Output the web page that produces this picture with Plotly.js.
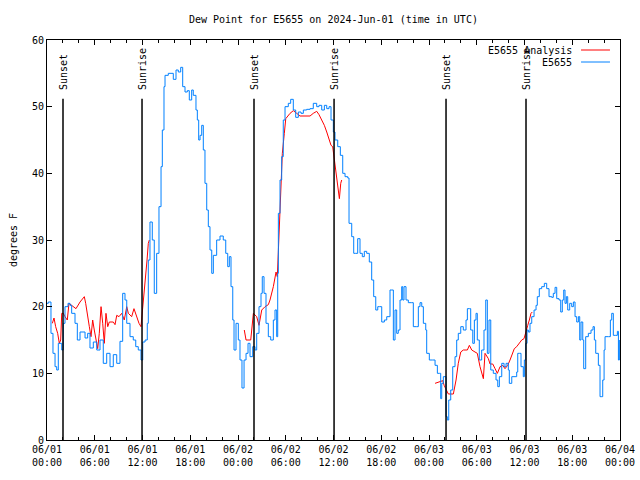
<!DOCTYPE html>
<html>
<head>
<meta charset="utf-8">
<script src="https://cdn.plot.ly/plotly-3.0.1.min.js"></script>
<style>html,body{margin:0;padding:0;background:#fff;}#chart{width:640px;height:480px;}</style>
</head>
<body>
<div id="chart"></div>
<script>
// Hours since 2024-06-01 00:00 UTC
const stationHours = [0.00,0.16,0.50,0.75,1.01,1.22,1.42,1.85,2.05,2.26,2.64,2.89,3.10,3.52,3.81,4.15,4.52,4.78,5.11,5.40,5.82,6.25,6.66,7.07,7.50,7.92,8.33,8.76,9.17,9.51,9.80,10.02,10.43,10.84,11.15,11.47,11.81,12.03,12.32,12.60,12.73,12.94,13.23,13.48,13.78,14.07,14.33,14.49,14.70,14.83,15.24,15.87,16.21,16.50,16.80,17.05,17.34,17.63,17.88,18.18,18.38,18.72,18.89,19.06,19.23,19.44,19.64,19.85,20.07,20.27,20.48,20.70,20.90,21.32,21.74,22.15,22.46,22.71,22.91,23.12,23.34,23.50,23.75,24.04,24.25,24.50,24.76,25.01,25.26,25.51,25.85,26.14,26.35,26.64,26.89,27.05,27.27,27.52,27.81,28.11,28.44,28.65,28.86,28.99,29.07,29.28,29.49,29.69,29.91,30.32,30.62,30.95,31.25,31.58,31.92,32.21,32.63,33.05,33.46,33.89,34.18,34.52,34.85,35.15,35.44,35.69,35.98,36.19,36.53,36.86,37.16,37.45,37.79,37.95,38.29,38.54,38.79,39.04,39.33,39.62,39.87,40.17,40.50,40.80,41.05,41.31,41.56,41.81,42.06,42.39,42.69,42.98,43.10,43.32,43.52,43.73,43.94,44.14,44.36,44.57,44.70,44.86,45.11,45.40,45.83,46.03,46.46,46.66,46.87,47.09,47.29,47.59,47.71,48.04,48.47,48.76,49.05,49.30,49.47,49.60,49.80,50.01,50.14,50.30,50.48,50.73,50.98,51.27,51.48,51.68,51.99,52.31,52.65,52.82,53.07,53.24,53.50,53.70,53.91,54.07,54.32,54.62,54.91,55.13,55.33,55.54,55.76,56.08,56.42,56.64,56.84,57.14,57.43,57.68,57.97,58.09,58.40,58.81,59.02,59.15,59.35,59.56,59.85,59.98,60.15,60.32,60.48,60.69,60.91,61.20,61.45,61.61,61.86,62.16,62.49,62.79,63.08,63.42,63.62,63.84,64.05,64.34,64.55,64.75,64.93,65.09,65.26,65.43,65.68,65.93,66.14,66.35,66.56,66.77,66.94,67.10,67.32,67.44,67.69,68.02,68.36,68.61,68.78,68.95,69.28,69.49,69.71,69.83,70.00,70.12,70.54,70.79,70.96,71.16,71.47,71.67,71.80,71.92];
const stationDewPoint = [20.5,20.7,16,13,11,10.5,14.5,13.5,17.5,20,20.5,20.2,19,17.5,15,16.2,16.2,15.3,16,13.8,14.7,13.5,15,11.5,13,11,12.8,11.5,14.8,22,21,17.5,15.5,15,14,13.5,12,14.7,15,17.5,27,32.7,30,22,28,35,41,46.5,53,54.7,55,54.1,55.5,55.2,55.9,53,52.2,52.4,51,52.5,51.7,49.5,48,45,45.7,47.2,43.5,38.5,34.5,32,28.5,25,27.7,30,30.6,30,28,26,27.5,23,18,13.5,17.5,15,12,7.8,12,13,14.5,12.5,14,13.5,16,20,22,24.5,22,17.5,15.5,15,18,19.5,15.5,25,34,39,42.5,48,50,50.5,51.1,49.5,48.4,49.2,49,49.5,49.6,49.7,50.5,50,50.2,49.5,50.2,49.7,50,48,46.2,45,44,42.7,40,39.5,39.3,32.5,30.5,28,28,30.2,28,27.5,28.3,28,26.7,24,21.5,19.5,20,20,17.7,18,18.5,18.5,22.5,22.5,15,19.5,16,16.5,21,23,21,23,21,20.6,20.6,17,17,20,20.6,20,17.5,16.5,13,12,12,11.2,10,10,6.2,8.5,9.5,9.5,3.5,3,6,7.5,11,12.5,15,16,17,16.5,18,19.7,19.7,16.5,14.5,18,19,15,12,13.5,16.5,21,13,18,10.5,10,9,8,9.5,11.5,11,11.5,10.5,8.5,9.5,9.5,10.2,13,13,11,9.5,12,14.5,16.5,16.2,17.5,18.5,19.5,20.2,21.5,22.7,23,23.5,22.7,21.5,21.4,22,22.9,21.2,21,19.2,21,22.5,20.5,21.5,19.5,20.5,20,20.7,18.5,17.7,18.5,15,17.7,15,10.7,15.5,16,16.5,17,15,13,11.2,6.5,6.5,9,13.5,15.5,15.5,18,19,15.7,15.7,16.3,12,15];

const analysisHours = [0.67,0.88,1.09,1.34,1.55,1.72,1.85,2.05,2.26,2.55,2.76,3.10,3.64,4.15,4.69,4.86,5.11,5.32,5.53,5.74,5.94,6.16,6.37,6.57,6.79,7.00,7.20,7.41,7.63,7.83,8.33,8.55,8.76,9.05,9.39,9.71,10.02,10.22,10.64,10.93,11.27,11.56,11.81,11.98,12.10,12.23,12.40,12.57,12.73,12.86,null,
 24.79,25.01,25.60,25.93,26.35,26.64,26.98,27.40,27.81,28.02,28.44,28.78,28.94,29.15,29.37,29.57,29.82,30.00,30.54,30.95,31.38,31.79,32.42,33.05,33.46,33.89,34.18,34.52,34.85,35.15,35.44,35.69,35.90,36.07,36.19,36.40,36.61,36.74,36.91,37.03,null,
 48.76,49.30,49.73,49.90,50.23,50.43,51.06,51.40,51.68,51.99,52.31,52.82,53.07,53.37,53.78,54.07,54.41,54.62,54.83,55.04,55.25,55.46,55.67,56.01,56.30,56.59,56.93,57.26,57.55,57.89,58.18,58.40,58.72,59.02,59.31,59.65,59.94,60.19,60.41,60.61,60.82,60.98];
const analysisDewPoint = [17.5,18.3,17,16,14.5,15,19,19,18.5,18,20.5,20.2,19.7,20.7,21.5,20.5,18.2,17,15.5,18,16.5,14.8,13.7,16,20,17.5,14.5,19,17,17.7,17.7,17.3,18.7,18.5,19,18,20,19,18.5,19.7,18.5,17.5,17,19,21,23,25,27,29.5,30,null,
 16.5,15,15,19,18.5,17.2,19.5,20,20.3,21,23,25.2,24.5,30,37,43,46,48.2,49,49.4,49,48.6,48.6,48.6,49,49.3,48.8,48.1,47.2,46.2,45,44.2,44,42.5,41,39.5,37.5,36.2,38.5,39,null,
 8.5,8.7,8.9,8.2,7.2,6.9,6.9,9,11.5,13.2,13.5,13.5,14.2,13.5,13.2,13,11,10.2,9.2,13,12.5,12.2,11.4,11.4,10.7,10,11,11.2,10.7,11.2,12,12.7,13.7,14,14.5,15,15.2,16.5,17.2,18,19,19.2];

const sunHours = [2.01, 11.94, 26.01, 36.07, 50.14, 60.19];
const sunLabels = ["Sunset", "Sunrise", "Sunset", "Sunrise", "Sunset", "Sunrise"];
const sunLineTop = 51.2;
const sunLabelY = 52.2;

const seriesNames = ["E5655 Analysis", "E5655"];
const seriesColors = ["#ff0000", "#0080ff"];

const T0 = Date.UTC(2024, 5, 1, 0, 0, 0);
const HR = 3600 * 1000;
const toTime = h => (h === null ? null : T0 + h * HR);

const FONT = {family: "DejaVu Sans Mono, monospace", size: 10, color: "#000"};

const traces = [
  {x: analysisHours.map(toTime), y: analysisDewPoint, type: "scatter", mode: "lines",
   name: seriesNames[0], line: {color: seriesColors[0], width: 1}, connectgaps: false},
  {x: stationHours.map(toTime), y: stationDewPoint, type: "scatter", mode: "lines",
   name: seriesNames[1], line: {color: seriesColors[1], width: 1, shape: "hv"}}
];

const shapes = sunHours.map(h => ({
  type: "line", xref: "x", yref: "y", x0: toTime(h), x1: toTime(h), y0: 0, y1: sunLineTop,
  line: {color: "#000", width: 1.5}
}));
const annotations = sunHours.map((h, i) => ({
  x: toTime(h), y: sunLabelY, xref: "x", yref: "y", text: sunLabels[i], textangle: -90,
  showarrow: false, xanchor: "center", yanchor: "bottom", font: FONT
}));

// gnuplot-style legend (text right, sample at right)
const legRowsY = [0.975, 0.945];
seriesNames.forEach((n, i) => {
  annotations.push({x: 0.9197, y: legRowsY[i], xref: "paper", yref: "paper", text: n,
    showarrow: false, xanchor: "right", yanchor: "middle", font: FONT});
  shapes.push({type: "line", xref: "paper", yref: "paper", x0: 0.932, x1: 0.9825,
    y0: legRowsY[i], y1: legRowsY[i], line: {color: seriesColors[i], width: 1}});
});

const layout = {
  width: 640, height: 480,
  margin: {l: 47, r: 20, t: 40, b: 40},
  paper_bgcolor: "#fff", plot_bgcolor: "#fff",
  showlegend: false,
  font: FONT,
  title: {text: "Dew Point for E5655 on 2024-Jun-01 (time in UTC)", font: FONT,
          x: 0.521, xanchor: "center", y: 0.96, yanchor: "middle"},
  xaxis: {
    type: "date", range: [T0, T0 + 72 * HR], tick0: T0, dtick: 6 * HR,
    tickformat: "%m/%d<br>%H:%M", ticks: "inside", ticklen: 5, tickcolor: "#000",
    showline: true, linecolor: "#000", linewidth: 1, mirror: "allticks",
    showgrid: false, zeroline: false, tickfont: FONT,
    minor: {dtick: 2 * HR, ticks: "inside", ticklen: 3, tickcolor: "#000", showgrid: false}
  },
  yaxis: {
    range: [0, 60], dtick: 10, ticks: "inside", ticklen: 5, tickcolor: "#000",
    showline: true, linecolor: "#000", linewidth: 1, mirror: "allticks",
    showgrid: false, zeroline: false, tickfont: FONT,
    title: {text: "degrees F", font: FONT, standoff: 12}
  },
  shapes: shapes,
  annotations: annotations
};

Plotly.newPlot("chart", traces, layout, {displayModeBar: false, staticPlot: true});
</script>
</body>
</html>
